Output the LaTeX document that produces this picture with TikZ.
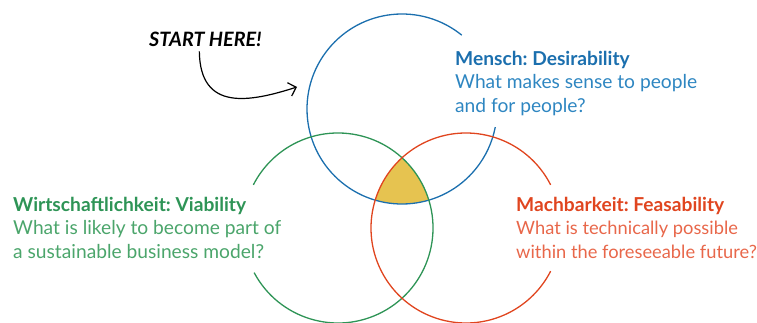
\documentclass[tikz,border=0pt]{standalone}
\usepackage{fontspec}
\setmainfont{Lato}
\usetikzlibrary{arrows.meta,calc}
\frenchspacing

\definecolor{desblue}{HTML}{1B6FAE}
\definecolor{desbluetxt}{HTML}{2E86C1}
\definecolor{viagreen}{HTML}{2E9456}
\definecolor{viagreentxt}{HTML}{4BA56B}
\definecolor{feared}{HTML}{E0451F}
\definecolor{fearedtxt}{HTML}{E8674A}
\definecolor{sweetspot}{HTML}{E6C350}

\tikzset{
  ring/.style={line width=1.3pt},
  % anchored on the baseline of the last line
  lens/.style={anchor=base west, inner sep=0pt, align=left,
    font=\fontsize{19.2}{23.5}\selectfont},
  hint/.style={anchor=base west, inner sep=0pt,
    font=\fontsize{19.8}{22}\selectfont\bfseries\itshape},
  pointer/.style={line width=1.2pt, -{Straight Barb[length=7pt,width=14pt]}},
}

\begin{document}
\begin{tikzpicture}[x=1pt,y=1pt]
  \useasboundingbox (0,0) rectangle (757,322);

  % circle centres
  \coordinate (cD) at (402,213);
  \coordinate (cV) at (338,94);
  \coordinate (cF) at (466,94);
  \def\rr{95}

  % common area of all three circles
  \begin{scope}
    \clip (cD) circle (\rr);
    \clip (cV) circle (\rr);
    \fill[sweetspot] (cF) circle (\rr);
  \end{scope}

  % circles, opened where the labels sit
  \draw[ring, desblue]  ($(cD)+(51:\rr)$)  arc[start angle=51,  end angle=349, radius=\rr];
  \draw[ring, viagreen] ($(cV)+(208:\rr)$) arc[start angle=208, end angle=513, radius=\rr];
  \draw[ring, feared]   ($(cF)+(27:\rr)$)  arc[start angle=27,  end angle=333, radius=\rr];

  % labels
  \node[lens, text=desbluetxt] (desire) at (455,210)
    {\textcolor{desblue}{\bfseries Mensch: Desirability}\\What makes sense to people\\and for people?};
  \node[lens, text=viagreentxt] (viable) at (13,64)
    {\textcolor{viagreen}{\bfseries Wirtschaftlichkeit: Viability}\\What is likely to become part of\\a sustainable business model?};
  \node[lens, text=fearedtxt, font=\fontsize{18.3}{23.5}\selectfont] (feasible) at (516,64)
    {\textcolor{feared}{\fontsize{19.2}{23.5}\selectfont\bfseries Machbarkeit: Feasability}\\What is technically possible\\within the foreseeable future?};

  % start hint
  \node[hint] (start) at (149,275) {START HERE!};
  \coordinate (aim) at (297,235);
  \draw[pointer] ([xshift=-6pt,yshift=-4pt]start.south)
    .. controls (200,210) and (250,220) .. (aim);
\end{tikzpicture}
\end{document}
